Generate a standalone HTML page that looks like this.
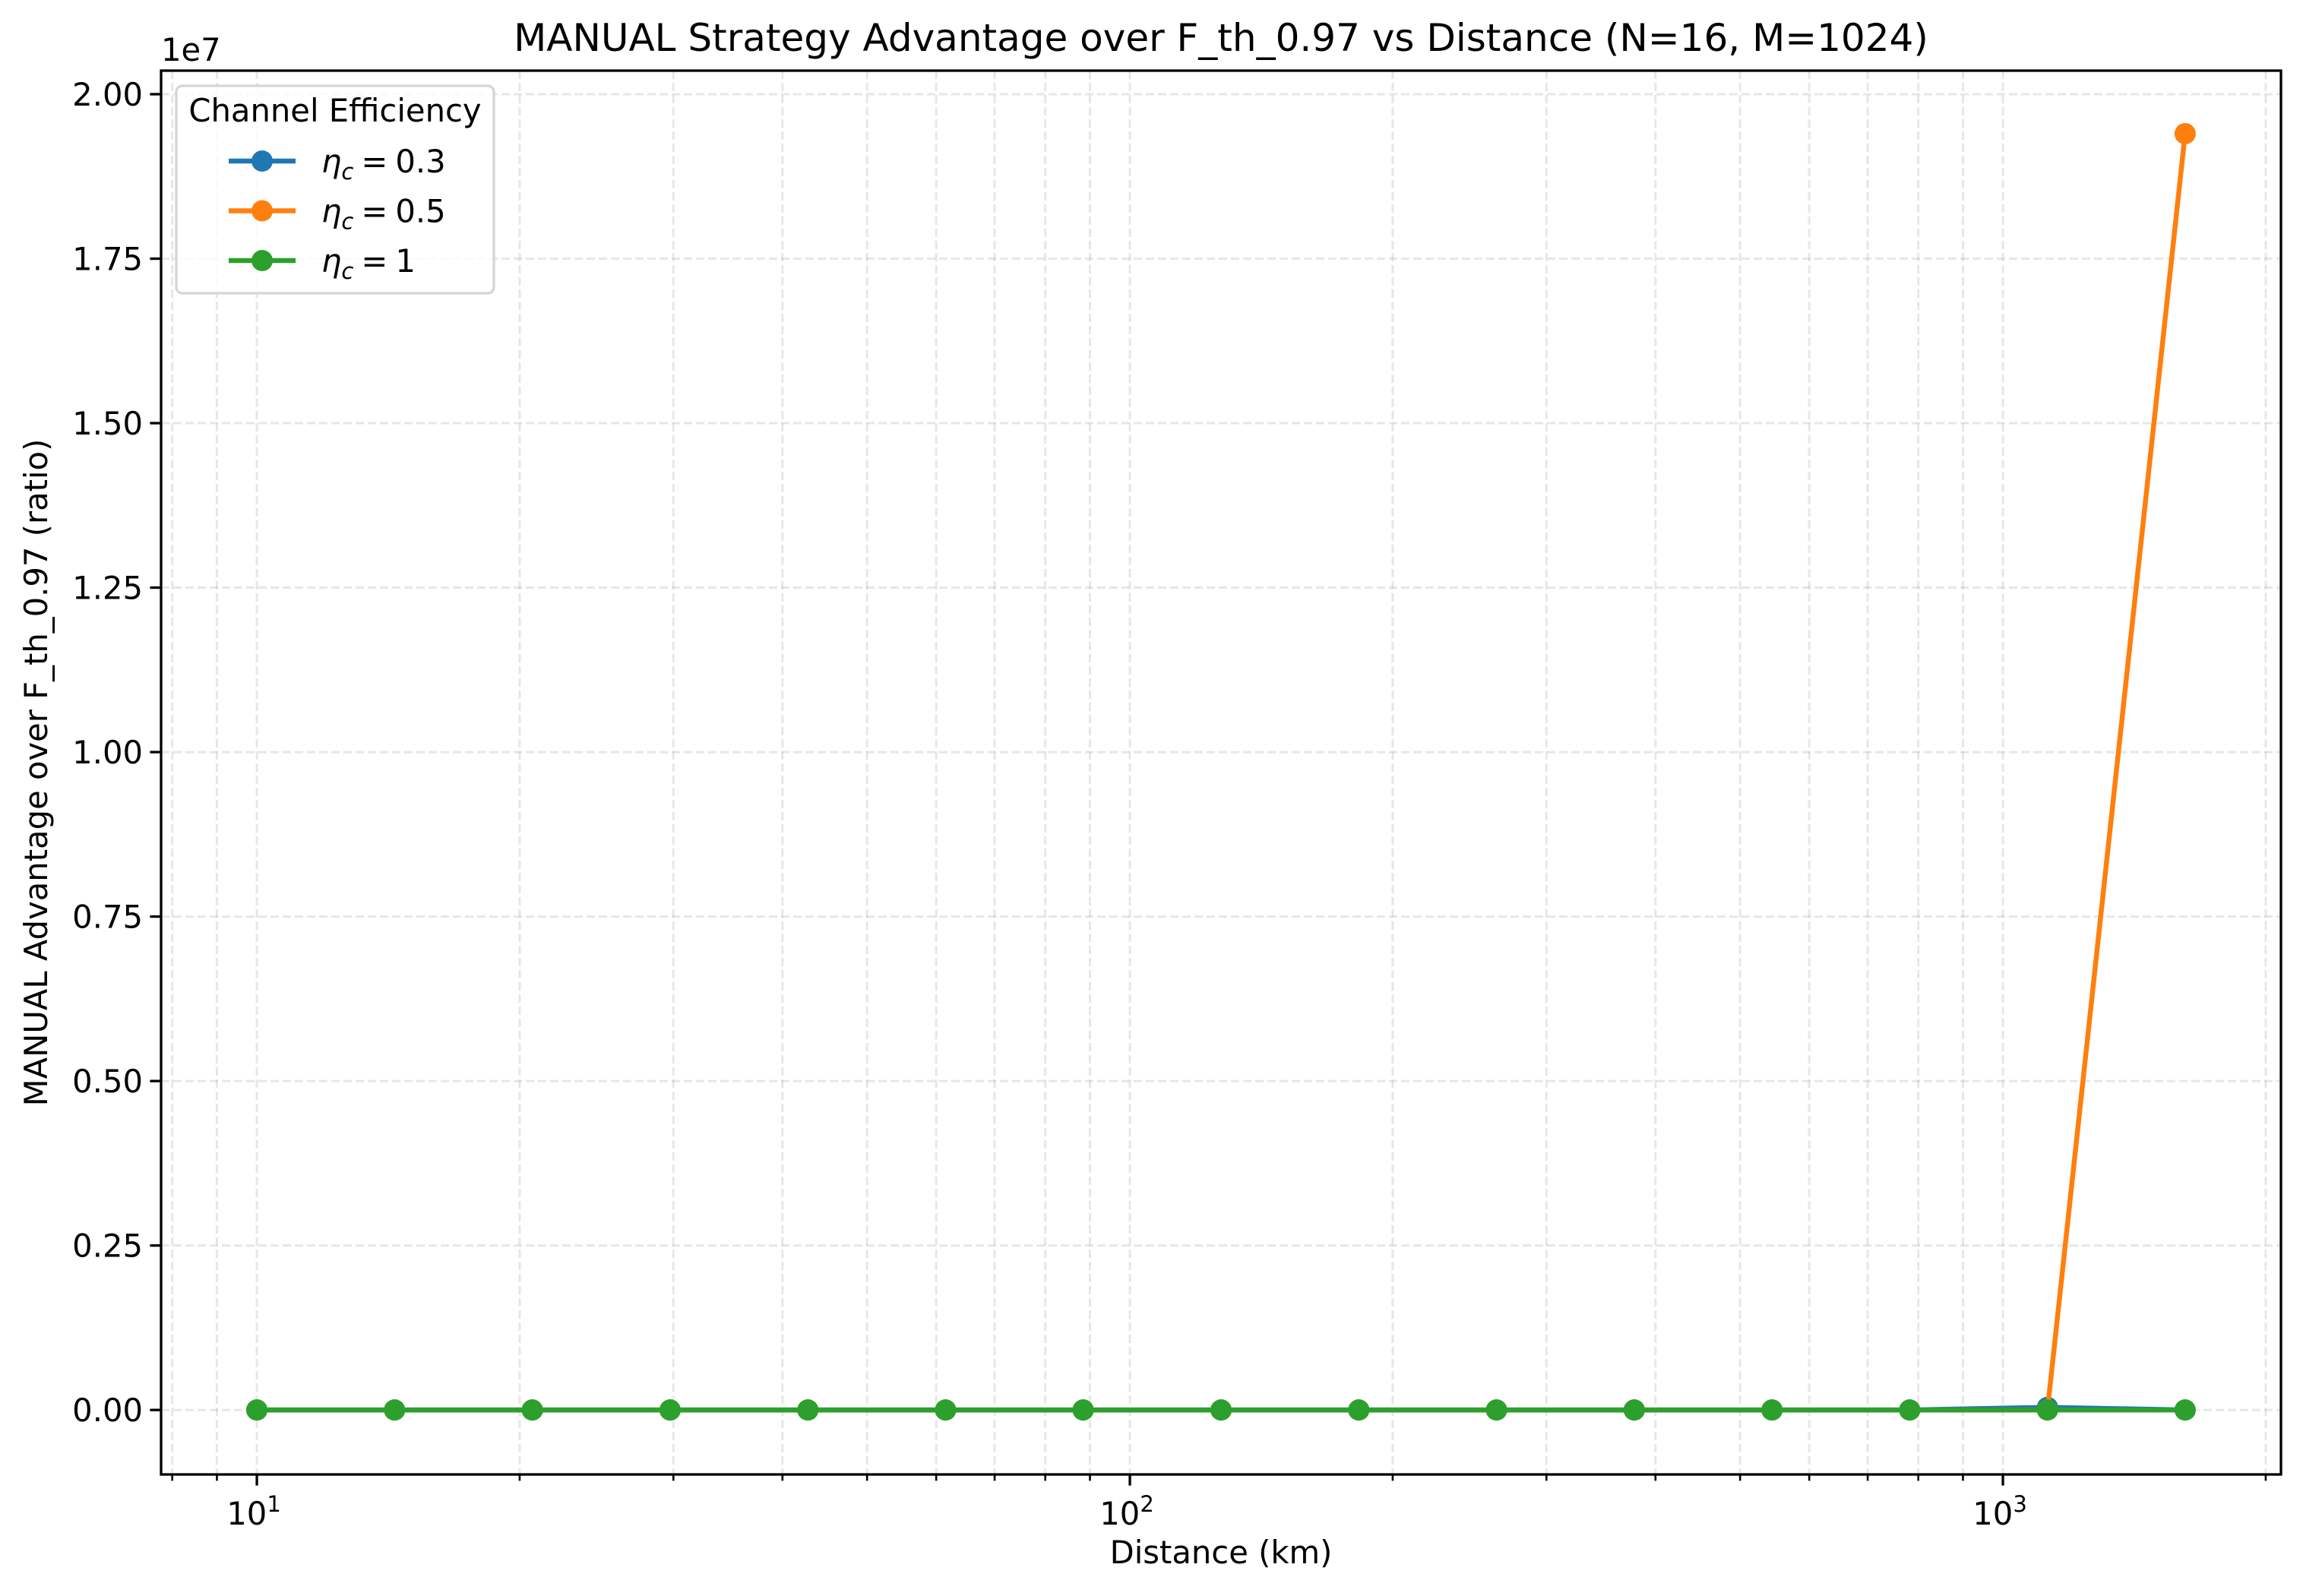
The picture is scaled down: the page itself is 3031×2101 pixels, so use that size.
<!DOCTYPE html>
<html><head><meta charset="utf-8"><style>
html,body{margin:0;padding:0;background:#fff;}
svg{display:block;font-family:"DejaVu Sans","Liberation Sans",sans-serif;}
</style></head><body>
<svg id="chart" width="3031" height="2101" viewBox="0 0 3031 2101" xmlns="http://www.w3.org/2000/svg">
<rect width="3031" height="2101" fill="#fff"/>
<g id="grid"></g>
<g id="series"></g>
<g id="axes"></g>
<text x="1607" y="67" font-size="50" text-anchor="middle">MANUAL Strategy Advantage over F_th_0.97 vs Distance (N=16, M=1024)</text>
<text x="1607" y="2058" font-size="41.7" text-anchor="middle">Distance (km)</text>
<text transform="translate(62,1017) rotate(-90)" font-size="41.7" text-anchor="middle">MANUAL Advantage over F_th_0.97 (ratio)</text>
<text x="212" y="80" font-size="41.7">1e7</text>
<g id="legend"></g>
</svg>
<script>
const distances=[10,14.38,20.68,29.74,42.77,61.5,88.4,127.2,182.9,263,378.2,543.9,782.1,1124.7,1617];
const seriesA=[0,0,0,0,0,0,0,0,0,0,0,0,0,40000,0];
const seriesB=[0,0,0,0,0,0,0,0,0,0,0,0,0,0,19400000];
const seriesC=[0,0,0,0,0,0,0,0,0,0,0,0,0,0,0];
const yTicks=[0,0.25,0.5,0.75,1.0,1.25,1.5,1.75,2.0];
const yTickLabels=["0.00","0.25","0.50","0.75","1.00","1.25","1.50","1.75","2.00"];
const xMajor=[10,100,1000];
const xMajorExp=["1","2","3"];
const xMinor=[8,9,20,30,40,50,60,70,80,90,200,300,400,500,600,700,800,900,2000];
const legendLabels=["0.3","0.5","1"];

const NS="http://www.w3.org/2000/svg";
const L=212,R=3002,T=93,B=1941;
const lx0=0.8903,lx1=3.3185,y0=-0.098e7,y1=2.0358e7;
function X(v){return L+(Math.log10(v)-lx0)/(lx1-lx0)*(R-L);}
function Y(v){return B-(v-y0)/(y1-y0)*(B-T);}
function mk(tag,at,parent){const e=document.createElementNS(NS,tag);for(const k in at)e.setAttribute(k,at[k]);parent.appendChild(e);return e;}
const grid=document.getElementById('grid'),axes=document.getElementById('axes'),ser=document.getElementById('series'),leg=document.getElementById('legend');
const gstyle={stroke:'#b0b0b0','stroke-opacity':'0.3','stroke-width':'3','stroke-dasharray':'11,5'};
yTicks.forEach((t,i)=>{
 const y=Y(t*1e7);
 let g=mk('line',Object.assign({x1:L,x2:R,y1:y,y2:y},gstyle),grid);
 
 
 let tk=mk('line',{x1:L-14.6,x2:L,y1:y,y2:y,stroke:'#000','stroke-width':'3.3'},axes);
 
 
 let tx=mk('text',{x:L-24,y:y+15,'font-size':'41.7','text-anchor':'end'},axes);
 tx.textContent=yTickLabels[i];
 
 
});
xMinor.forEach(v=>{
 const x=X(v);
 let g=mk('line',Object.assign({x1:x,x2:x,y1:T,y2:B},gstyle),grid);
 
 
 let tk=mk('line',{x1:x,x2:x,y1:B,y2:B+8.3,stroke:'#000','stroke-width':'2.6'},axes);
 
 
});
xMajor.forEach((v,i)=>{
 const x=X(v);
 let g=mk('line',Object.assign({x1:x,x2:x,y1:T,y2:B},gstyle),grid);
 
 
 let tk=mk('line',{x1:x,x2:x,y1:B,y2:B+14.6,stroke:'#000','stroke-width':'3.3'},axes);
 
 
 let tx=mk('text',{x:x-4,y:B+66,'font-size':'41.7','text-anchor':'middle'},axes);
 tx.textContent='10';
 
 
 let sp=mk('tspan',{dy:'-17','font-size':'29'},tx);sp.textContent=xMajorExp[i];
});
let frame=mk('rect',{x:L,y:T,width:R-L,height:B-T,fill:'none',stroke:'#000','stroke-width':'3.3'},axes);


const colors=['#1f77b4','#ff7f0e','#2ca02c'];
[seriesA,seriesB,seriesC].forEach((s,si)=>{
 const pts=distances.map((d,i)=>X(d)+','+Y(s[i])).join(' ');
 let pl=mk('polyline',{points:pts,fill:'none',stroke:colors[si],'stroke-width':'6.5','stroke-linejoin':'round'},ser);
 
 
 distances.forEach((d,i)=>{
  let c=mk('circle',{cx:X(d),cy:Y(s[i]),r:14,fill:colors[si]},ser);
  
  
 });
});
let box=mk('rect',{x:232,y:113,width:418,height:273,rx:8,fill:'#fff','fill-opacity':'0.8',stroke:'#d5d5d5','stroke-width':'3.3'},leg);


let lt=mk('text',{x:441,y:160,'font-size':'41.7','text-anchor':'middle'},leg);
lt.textContent='Channel Efficiency';


legendLabels.forEach((lab,i)=>{
 const y=212+i*65.5;
 let g=mk('g',{},leg);
 
 
 mk('line',{x1:301,x2:389,y1:y,y2:y,stroke:colors[i],'stroke-width':'6.5'},g);
 mk('circle',{cx:345,cy:y,r:14,fill:colors[i]},g);
 let t=mk('text',{x:423,y:y+15,'font-size':'41.7'},g);
 let a=mk('tspan',{'font-style':'italic'},t);a.textContent='η';
 let b=mk('tspan',{'font-style':'italic','font-size':'29',dy:'9'},t);b.textContent='c';
 let e=mk('tspan',{dy:'-9',dx:'10'},t);e.textContent='=';
 let c=mk('tspan',{dx:'10'},t);c.textContent=lab;
});
</script>
</body></html>
